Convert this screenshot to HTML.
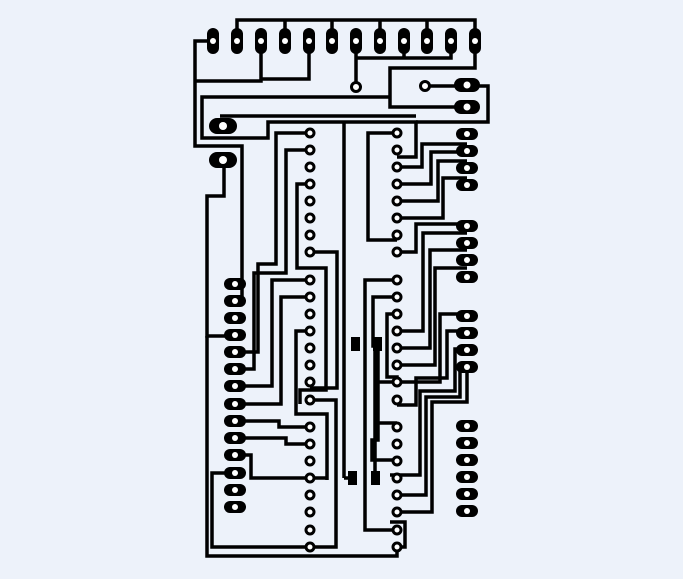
<!DOCTYPE html><html><head><style>body{margin:0;background:#edf2fa}svg{display:block}</style></head><body>
<svg width="683" height="579" viewBox="0 0 683 579" xmlns="http://www.w3.org/2000/svg">
<rect width="683" height="579" fill="#edf2fa"/>
<g fill="none" stroke="#000" stroke-width="3.5" stroke-linejoin="miter">
<polyline points="237,41 237,20 475,20 475,41"/>
<line x1="285" y1="20" x2="285" y2="41"/><line x1="332" y1="20" x2="332" y2="41"/><line x1="380" y1="20" x2="380" y2="41"/><line x1="427" y1="20" x2="427" y2="41"/>
<polyline points="213,41 195,41 195,146 242,146 242,300 230,300"/>
<polyline points="195,81 261,81 261,41"/><polyline points="261,79 309,79 309,41"/>
<polyline points="356,41 356,87"/><polyline points="356,58 451,58 451,41"/><polyline points="404,41 404,58"/>
<polyline points="475,41 475,68 390,68 390,107 468,107"/>
<polyline points="390,97 202,97 202,138 268,138 268,122 416,122 416,157 397,157"/>
<polyline points="220,116 416,116"/>
<polyline points="425,86 468,86 488,86 488,122 416,122"/>
<polyline points="224,160 224,196 207,196 207,336 235,336"/>
<line x1="344" y1="122" x2="344" y2="478"/><polyline points="344,478 352,478"/>
<polyline points="397,133 368,133 368,240 397,240"/>
<polyline points="310,133 276,133 276,264 258,264 258,352 235,352"/>
<polyline points="310,150 286,150 286,273 254,273 254,369 235,369"/>
<polyline points="310,184 297,184 297,268 326,268 326,390 300,390 300,404"/>
<polyline points="310,252 337,252 337,388 310,388"/>
<polyline points="310,280 272,280 272,386 235,386"/>
<polyline points="310,297 281,297 281,404 235,404"/>
<polyline points="310,331 296,331 296,414 327,414 327,480"/>
<polyline points="310,400 336,400 336,547 310,547"/>
<polyline points="235,421 279,421 279,427 310,427"/>
<polyline points="235,438 286,438 286,444 310,444"/>
<polyline points="235,455 251,455 251,478 310,478 327,478"/>
<polyline points="235,473 212,473 212,547 310,547"/>
<polyline points="207,336 207,556 397,556 397,547 405,547 405,522 390,522"/>
<polyline points="397,280 365,280 365,530 397,530"/>
<polyline points="397,297 373,297 373,346 378,346 378,440 372,440 372,460 397,460 390,460"/>
<polyline points="397,314 387,314 387,377 397,377 397,382 377,382 377,423 397,423"/>
<polyline points="375,350 375,478"/>
<polyline points="397,167 422,167 422,144 467,144"/>
<polyline points="397,184 431,184 431,152 467,152"/>
<polyline points="397,201 438,201 438,161 467,161"/>
<polyline points="397,218 443,218 443,178 467,178"/>
<polyline points="397,252 416,252 416,224 467,224"/>
<polyline points="397,331 423,331 423,233 467,233"/>
<polyline points="397,348 430,348 430,250 467,250"/>
<polyline points="397,365 435,365 435,268 467,268"/>
<polyline points="397,382 440,382 440,314 467,314"/>
<polyline points="397,405 416,405 416,378 447,378 447,331 467,331"/>
<polyline points="390,475 420,475 420,391 455,391 455,349 467,349"/>
<polyline points="397,495 426,495 426,397 460,397 460,367 467,367"/>
<polyline points="397,512 432,512 432,402 467,402 467,367"/>
</g>
<g fill="#000">
<rect x="351" y="337" width="9" height="14"/><rect x="373" y="337" width="9" height="14"/>
<rect x="348" y="471" width="9" height="14"/><rect x="371" y="471" width="9" height="14"/>
</g>
<g fill="#000" stroke="none">
<g id="tp"><rect x="207" y="28" width="12" height="26" rx="6"/></g>
<use href="#tp" x="24"/><use href="#tp" x="48"/><use href="#tp" x="72"/><use href="#tp" x="96"/><use href="#tp" x="119"/><use href="#tp" x="143"/><use href="#tp" x="167"/><use href="#tp" x="191"/><use href="#tp" x="214"/><use href="#tp" x="238"/><use href="#tp" x="262"/>
<rect x="454" y="78" width="26" height="14" rx="7"/><rect x="454" y="100" width="26" height="14" rx="7"/>
<rect x="209" y="118" width="28" height="16" rx="8"/><rect x="209" y="152" width="28" height="16" rx="8"/>
</g>
<g fill="#000">
<g id="lp"><rect x="224" y="278" width="22" height="12" rx="6"/></g>
<use href="#lp" y="17"/><use href="#lp" y="34"/><use href="#lp" y="51"/><use href="#lp" y="68"/><use href="#lp" y="85"/><use href="#lp" y="102"/><use href="#lp" y="120"/><use href="#lp" y="137"/><use href="#lp" y="154"/><use href="#lp" y="171"/><use href="#lp" y="189"/><use href="#lp" y="206"/><use href="#lp" y="223"/>
<g id="rp"><rect x="456" y="128" width="22" height="12" rx="6"/></g>
<use href="#rp" y="17"/><use href="#rp" y="34"/><use href="#rp" y="51"/>
<use href="#rp" y="92"/><use href="#rp" y="109"/><use href="#rp" y="126"/><use href="#rp" y="143"/>
<use href="#rp" y="182"/><use href="#rp" y="199"/><use href="#rp" y="216"/><use href="#rp" y="233"/>
<use href="#rp" y="292"/><use href="#rp" y="309"/><use href="#rp" y="326"/><use href="#rp" y="343"/><use href="#rp" y="360"/><use href="#rp" y="377"/>
</g>
<g fill="#fff">
<g id="th"><circle cx="213" cy="41" r="3"/></g>
<use href="#th" x="24"/><use href="#th" x="48"/><use href="#th" x="72"/><use href="#th" x="96"/><use href="#th" x="119"/><use href="#th" x="143"/><use href="#th" x="167"/><use href="#th" x="191"/><use href="#th" x="214"/><use href="#th" x="238"/><use href="#th" x="262"/>
<circle cx="467" cy="85" r="3.5"/><circle cx="467" cy="107" r="3.5"/><circle cx="223" cy="126" r="4"/><circle cx="223" cy="160" r="4"/>
<g id="lh"><circle cx="235" cy="284" r="3"/></g>
<use href="#lh" y="17"/><use href="#lh" y="34"/><use href="#lh" y="51"/><use href="#lh" y="68"/><use href="#lh" y="85"/><use href="#lh" y="102"/><use href="#lh" y="120"/><use href="#lh" y="137"/><use href="#lh" y="154"/><use href="#lh" y="171"/><use href="#lh" y="189"/><use href="#lh" y="206"/><use href="#lh" y="223"/>
<g id="rh"><circle cx="467" cy="134" r="3"/></g>
<use href="#rh" y="17"/><use href="#rh" y="34"/><use href="#rh" y="51"/><use href="#rh" y="92"/><use href="#rh" y="109"/><use href="#rh" y="126"/><use href="#rh" y="143"/><use href="#rh" y="182"/><use href="#rh" y="199"/><use href="#rh" y="216"/><use href="#rh" y="233"/><use href="#rh" y="292"/><use href="#rh" y="309"/><use href="#rh" y="326"/><use href="#rh" y="343"/><use href="#rh" y="360"/><use href="#rh" y="377"/>
</g>
<g fill="#fff" stroke="#000" stroke-width="3">
<circle cx="356" cy="87" r="4.5"/><circle cx="425" cy="86" r="4.5"/>
<circle cx="310" cy="133" r="4"/><circle cx="310" cy="150" r="4"/><circle cx="310" cy="167" r="4"/><circle cx="310" cy="184" r="4"/><circle cx="310" cy="201" r="4"/><circle cx="310" cy="218" r="4"/><circle cx="310" cy="235" r="4"/><circle cx="310" cy="252" r="4"/>
<circle cx="310" cy="280" r="4"/><circle cx="310" cy="297" r="4"/><circle cx="310" cy="314" r="4"/><circle cx="310" cy="331" r="4"/><circle cx="310" cy="348" r="4"/><circle cx="310" cy="365" r="4"/><circle cx="310" cy="382" r="4"/><circle cx="310" cy="400" r="4"/>
<circle cx="310" cy="427" r="4"/><circle cx="310" cy="444" r="4"/><circle cx="310" cy="461" r="4"/><circle cx="310" cy="478" r="4"/><circle cx="310" cy="495" r="4"/><circle cx="310" cy="512" r="4"/><circle cx="310" cy="530" r="4"/><circle cx="310" cy="547" r="4"/>
<circle cx="397" cy="133" r="4"/><circle cx="397" cy="150" r="4"/><circle cx="397" cy="167" r="4"/><circle cx="397" cy="184" r="4"/><circle cx="397" cy="201" r="4"/><circle cx="397" cy="218" r="4"/><circle cx="397" cy="235" r="4"/><circle cx="397" cy="252" r="4"/>
<circle cx="397" cy="280" r="4"/><circle cx="397" cy="297" r="4"/><circle cx="397" cy="314" r="4"/><circle cx="397" cy="331" r="4"/><circle cx="397" cy="348" r="4"/><circle cx="397" cy="365" r="4"/><circle cx="397" cy="382" r="4"/><circle cx="397" cy="400" r="4"/>
<circle cx="397" cy="427" r="4"/><circle cx="397" cy="444" r="4"/><circle cx="397" cy="461" r="4"/><circle cx="397" cy="478" r="4"/><circle cx="397" cy="495" r="4"/><circle cx="397" cy="512" r="4"/><circle cx="397" cy="530" r="4"/><circle cx="397" cy="547" r="4"/>
</g>
</svg>
</body></html>
